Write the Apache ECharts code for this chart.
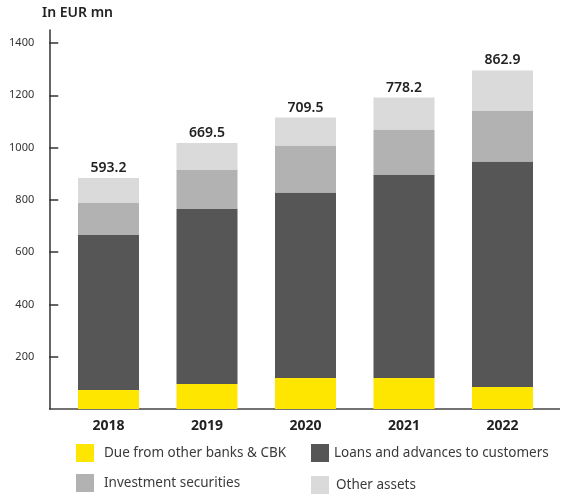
<!DOCTYPE html>
<html>
<head>
<meta charset="utf-8">
<title>Assets breakdown</title>
<script src="https://cdn.jsdelivr.net/npm/echarts@6/dist/echarts.min.js"></script>
<style>
  html, body { margin: 0; padding: 0; background: #ffffff; }
  #chart { width: 564px; height: 495px; }
</style>
</head>
<body>
<div id="chart"></div>
<script>
// Year categories
const years = ['2018', '2019', '2020', '2021', '2022'];

// Stacked components, EUR mn
const dueFromBanks = [72.7, 95.6, 118.6, 118.6, 84.2];
const loansToCustomers = [593.2, 669.5, 709.5, 778.2, 862.9];
const investmentSecurities = [122.4, 149.2, 179.8, 172.2, 195.1];
const otherAssets = [95.6, 103.3, 107.1, 122.4, 153.0];

// Y axis tick labels
const yTicks = [200, 400, 600, 800, 1000, 1200, 1400];

const seriesNames = [
  'Due from other banks & CBK',
  'Loans and advances to customers',
  'Investment securities',
  'Other assets'
];
const colors = ['#ffe600', '#565656', '#b2b2b3', '#dadada'];

const fontFamily = '"Noto Sans", "Open Sans", sans-serif';
const chart = echarts.init(document.getElementById('chart'), null, { renderer: 'canvas' });

function legendAt(name, left, top, textPad) {
  return {
    data: [name],
    left: left,
    top: top,
    padding: 0,
    icon: 'rect',
    itemWidth: 18,
    itemHeight: 18,
    selectedMode: false,
    textStyle: {
      fontFamily: fontFamily,
      fontSize: 13.5,
      color: '#3a3a3a',
      padding: [0, 0, 0, textPad]
    }
  };
}

const values = [dueFromBanks, loansToCustomers, investmentSecurities, otherAssets];

const series = seriesNames.map(function (name, i) {
  const s = {
    name: name,
    type: 'bar',
    stack: 'assets',
    barWidth: 61,
    data: values[i],
    itemStyle: { color: colors[i] },
    emphasis: { disabled: true }
  };
  if (i === seriesNames.length - 1) {
    // Loans figure shown above each column
    s.label = {
      show: true,
      position: 'top',
      distance: 3,
      fontFamily: fontFamily,
      fontSize: 14,
      fontWeight: 600,
      color: '#222222',
      formatter: function (p) { return loansToCustomers[p.dataIndex].toFixed(1); }
    };
  }
  return s;
});

chart.setOption({
  animation: false,
  backgroundColor: '#ffffff',
  color: colors,
  title: {
    text: 'In EUR mn',
    left: 42,
    top: 6,
    padding: 0,
    textStyle: {
      fontFamily: fontFamily,
      fontSize: 14,
      fontWeight: 600,
      color: '#222222'
    }
  },
  legend: [
    legendAt(seriesNames[0], 76, 444, 5),
    legendAt(seriesNames[1], 311, 444, 0),
    legendAt(seriesNames[2], 76, 474, 5),
    legendAt(seriesNames[3], 311, 476, 2)
  ],
  grid: {
    left: 59.25,
    right: 12.25,
    top: 30,
    bottom: 86,
    containLabel: false
  },
  xAxis: {
    type: 'category',
    data: years,
    axisLine: { show: false },
    axisTick: { show: false },
    axisLabel: {
      margin: 10,
      fontFamily: fontFamily,
      fontSize: 14,
      fontWeight: 700,
      color: '#222222'
    }
  },
  yAxis: {
    type: 'value',
    min: 0,
    max: 1450,
    interval: 200,
    offset: 10,
    splitLine: { show: false },
    axisLine: { show: true, lineStyle: { color: '#333333', width: 1.5 } },
    axisTick: {
      show: true,
      inside: true,
      length: 9,
      customValues: yTicks,
      lineStyle: { color: '#333333', width: 1.5 }
    },
    axisLabel: {
      margin: 15,
      customValues: yTicks,
      fontFamily: fontFamily,
      fontSize: 11,
      color: '#333333',
      formatter: function (v) { return String(v); }
    }
  },
  graphic: [
    {
      type: 'line',
      shape: { x1: 49, y1: 409, x2: 560, y2: 409 },
      style: { stroke: '#444444', lineWidth: 1.5 },
      silent: true
    }
  ],
  series: series
});
</script>
</body>
</html>
